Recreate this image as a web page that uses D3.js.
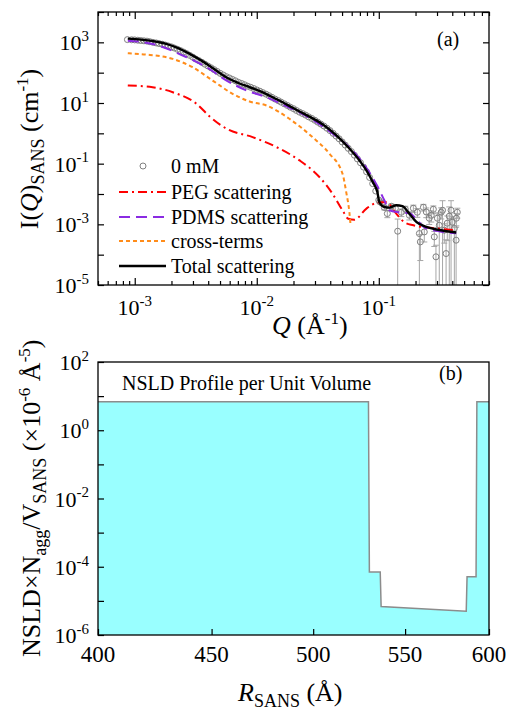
<!DOCTYPE html>
<html>
<head>
<meta charset="utf-8">
<script src="https://cdn.jsdelivr.net/npm/d3@7"></script>
<style>
  body { margin: 0; background: #fff; }
  svg { font-family: "Liberation Serif", "Times New Roman", serif; }
</style>
</head>
<body>
<svg id="chart" width="511" height="711"></svg>
<script>
// ---- panel (a): measured 0 mM data (low-q, dense part) ----
var qData = [0.000871, 0.000944, 0.001, 0.00106, 0.00112, 0.00119, 0.00126, 0.00133, 0.00141, 0.0015,
  0.00158, 0.00168, 0.00178, 0.00188, 0.002, 0.00211, 0.00224, 0.00237, 0.00251, 0.00266,
  0.00282, 0.00299, 0.00316, 0.00335, 0.00355, 0.00376, 0.00398, 0.00422, 0.00447, 0.00473,
  0.00501, 0.00531, 0.00562, 0.00596, 0.00631, 0.00668, 0.00708, 0.0075, 0.00794, 0.0084,
  0.00891, 0.00944, 0.01, 0.0106, 0.0112, 0.0119, 0.0126, 0.0133, 0.0141, 0.015,
  0.0158, 0.0168, 0.0178, 0.0188, 0.02, 0.0211, 0.0224, 0.0237, 0.0251, 0.0266,
  0.0282, 0.0299, 0.0316, 0.0335, 0.0355, 0.0376, 0.0398, 0.0422, 0.0447, 0.0473,
  0.0501, 0.0531, 0.0562, 0.0596, 0.0631, 0.0668, 0.0708, 0.075, 0.0794, 0.0841,
  0.0891, 0.0944, 0.1];
var iData = [1230, 1215, 1202, 1175, 1148, 1122, 1096, 1050, 1000, 955,
  912, 865, 813, 760, 708, 650, 589, 535, 479, 425,
  372, 325, 282, 250, 219, 190, 166, 145, 126, 110,
  95, 84, 74, 67, 60, 54, 48, 44, 40, 36,
  33, 30, 27, 24.5, 22, 19.6, 17.4, 15.4, 13.5, 12.0,
  10.7, 9.4, 8.3, 7.3, 6.5, 5.7, 5.0, 4.5, 4.0, 3.5,
  3.1, 2.7, 2.34, 2.02, 1.74, 1.47, 1.23, 1.0, 0.81, 0.66,
  0.52, 0.41, 0.32, 0.25, 0.19, 0.143, 0.107, 0.077, 0.054, 0.035,
  0.022, 0.0125, 0.0063];

// high-q scattered points with error bars
var qHigh = [0.102, 0.107, 0.111, 0.1175, 0.1267, 0.1367, 0.1428, 0.1531, 0.165, 0.178,
  0.192, 0.207, 0.215, 0.219, 0.232, 0.236, 0.245, 0.259, 0.269, 0.28,
  0.285, 0.294, 0.302, 0.313, 0.325, 0.333, 0.344, 0.356, 0.364, 0.378,
  0.391, 0.4, 0.416, 0.43, 0.432, 0.44];
var iHigh = [0.0055, 0.00494, 0.0036, 0.00226, 0.00394, 0.00339, 0.000593, 0.0025, 0.00314, 0.00199,
  0.00339, 0.0025, 0.000498, 0.000264, 0.00365, 0.000562, 0.00256, 0.00159, 0.00199, 0.00314,
  0.000386, 0.000085, 0.00159, 0.00093, 0.0025, 0.00291, 0.00064, 0.000109, 0.00109, 0.00185,
  0.00291, 0.00117, 0.00073, 0.0003, 0.00159, 0.0025];
var errHigh = [0.0006, 0.0008, 0.0006, 0.0006, 0.0007, 0.0008, 0.0009, 0.0007, 0.0008, 0.0006,
  0.0009, 0.0008, 0.0006, 0.0002, 0.0009, 0.0003, 0.0009, 0.0006, 0.0008, 0.0009,
  0.0002, 0.00012, 0.0008, 0.0012, 0.001, 0.0031, 0.0004, 0.0002, 0.0008, 0.0019,
  0.0031, 0.0006, 0.0008, 0.0005, 0.0007, 0.0009];

// model curves
var qTotal = [0.000877, 0.00112, 0.00141, 0.00178, 0.00224, 0.00282, 0.00355, 0.00447, 0.00562, 0.00708,
  0.00891, 0.0112, 0.0141, 0.0178, 0.0224, 0.0282, 0.0355, 0.0447, 0.0562, 0.0708,
  0.0794, 0.0891, 0.0973, 0.101, 0.111, 0.122, 0.139, 0.156, 0.178, 0.203,
  0.245, 0.313, 0.431];
var iTotal = [1324, 1230, 1096, 912, 661, 417, 245, 132, 70.8, 45.7,
  32.4, 22.4, 14.1, 8.71, 5.25, 3.24, 1.86, 0.871, 0.347, 0.115,
  0.0589, 0.0251, 0.0116, 0.00546, 0.00372, 0.00355, 0.00427, 0.00398, 0.00226, 0.0012,
  0.00082, 0.00065, 0.00054];

var qPDMS = [0.000877, 0.0014, 0.00267, 0.00388, 0.00566, 0.00826, 0.012, 0.0163, 0.0224, 0.0308,
  0.0417, 0.0574, 0.0693, 0.0837, 0.0975, 0.111, 0.122, 0.147, 0.178, 0.207,
  0.236, 0.313, 0.431];
var iPDMS = [1138, 885, 321, 151, 55, 25.8, 15.5, 8.93, 4.87, 2.34,
  0.99, 0.344, 0.149, 0.0517, 0.0179, 0.0062, 0.00291, 0.0025, 0.00232, 0.00136,
  0.0008, 0.00059, 0.00051];

var qCross = [0.000877, 0.00125, 0.00205, 0.00298, 0.00435, 0.00634, 0.00873, 0.012, 0.0185, 0.0286,
  0.0394, 0.0504, 0.0543, 0.0574, 0.0586];
var iCross = [435, 394, 284, 151, 55, 20.1, 11.2, 8.27, 3.02, 0.75,
  0.213, 0.0469, 0.0105, 0.0025, 0.00101];

var qPEG = [0.000877, 0.0014, 0.00205, 0.00321, 0.00411, 0.00566, 0.00924, 0.0145, 0.0224, 0.0326,
  0.0417, 0.0504, 0.0563, 0.0631, 0.0792, 0.101, 0.115, 0.139, 0.162, 0.192,
  0.275, 0.431];
var iPEG = [37.7, 33.1, 22.6, 9.41, 3.6, 1.42, 0.75, 0.352, 0.128, 0.0363,
  0.0103, 0.00291, 0.00153, 0.00142, 0.00331, 0.00533, 0.00533, 0.00226, 0.00117, 0.00093,
  0.00076, 0.00064];

var legendNames = ["0 mM", "PEG scattering", "PDMS scattering", "cross-terms", "Total scattering"];

// ---- panel (b): NSLD profile ----
var rProfile = [400, 529.5, 530, 536, 536.5, 586, 586.5, 592, 592.5, 600];
var nsldProfile = [6.8, 6.8, 7.0e-5, 7.0e-5, 6.8e-6, 5.0e-6, 5.1e-5, 5.1e-5, 6.8, 6.8];
var rTicks = [400, 450, 500, 550, 600];

var svg = d3.select("#chart");

function pow10(sel, v, size) {
  var e = Math.round(Math.log10(v));
  sel.append("tspan").text("10");
  sel.append("tspan").attr("font-size", size * 0.68).attr("dy", -size * 0.42).text(e);
}
function isDecade(v) {
  var l = Math.log10(v);
  return Math.abs(l - Math.round(l)) < 1e-6;
}
function ticks(gen, scale, vals, size, tx, ty) {
  svg.append("g").attr("transform", "translate(" + tx + "," + ty + ")")
    .call(gen(scale).tickValues(vals).tickSize(-size).tickFormat(""))
    .call(function(g) { g.select(".domain").remove(); })
    .call(function(g) { g.selectAll("line").attr("stroke", "#000").attr("stroke-width", 1.2); });
}

// ===== panel (a) =====
var A = { l: 98, r: 489, t: 12, b: 285 };
var x = d3.scaleLog().domain([5e-4, 0.8]).range([A.l, A.r]);
var y = d3.scaleLog().domain([1e-5, 1e4]).range([A.b, A.t]);

svg.append("clipPath").attr("id", "clipA").append("rect")
  .attr("x", A.l).attr("y", A.t).attr("width", A.r - A.l).attr("height", A.b - A.t);
var plotA = svg.append("g").attr("clip-path", "url(#clipA)");

// error bars
var errRows = d3.zip(qHigh, iHigh, errHigh);
plotA.selectAll(".eb").data(errRows).join("line")
  .attr("x1", function(d) { return x(d[0]); }).attr("x2", function(d) { return x(d[0]); })
  .attr("y1", function(d) { return y(d[1] + d[2]); })
  .attr("y2", function(d) { return d[1] - d[2] > 1e-5 ? y(d[1] - d[2]) : A.b; })
  .attr("stroke", "#a6a6a6").attr("stroke-width", 1);
plotA.selectAll(".capT").data(errRows).join("line")
  .attr("x1", function(d) { return x(d[0]) - 3; }).attr("x2", function(d) { return x(d[0]) + 3; })
  .attr("y1", function(d) { return y(d[1] + d[2]); }).attr("y2", function(d) { return y(d[1] + d[2]); })
  .attr("stroke", "#a6a6a6").attr("stroke-width", 1);
plotA.selectAll(".capB").data(errRows.filter(function(d) { return d[1] - d[2] > 1e-5; })).join("line")
  .attr("x1", function(d) { return x(d[0]) - 3; }).attr("x2", function(d) { return x(d[0]) + 3; })
  .attr("y1", function(d) { return y(d[1] - d[2]); }).attr("y2", function(d) { return y(d[1] - d[2]); })
  .attr("stroke", "#a6a6a6").attr("stroke-width", 1);

// data circles
var pts = d3.zip(qData, iData).concat(d3.zip(qHigh, iHigh));
plotA.selectAll(".pt").data(pts).join("circle")
  .attr("cx", function(d) { return x(d[0]); }).attr("cy", function(d) { return y(d[1]); })
  .attr("r", 3).attr("fill", "none").attr("stroke", "#808080").attr("stroke-width", 1);

var line = d3.line().x(function(d) { return x(d[0]); }).y(function(d) { return y(d[1]); })
  .curve(d3.curveMonotoneX);

var curves = [
  { q: qPEG, i: iPEG, color: "#ff0000", dash: "9,4,2,4", w: 2 },
  { q: qPDMS, i: iPDMS, color: "#8a2be2", dash: "11,6", w: 2 },
  { q: qCross, i: iCross, color: "#ff8c1a", dash: "4,3", w: 2 },
  { q: qTotal, i: iTotal, color: "#000", dash: null, w: 2.4 }
];
curves.forEach(function(c) {
  plotA.append("path").datum(d3.zip(c.q, c.i)).attr("d", line)
    .attr("fill", "none").attr("stroke", c.color).attr("stroke-width", c.w)
    .attr("stroke-dasharray", c.dash);
});

// frame + ticks
svg.append("rect").attr("x", A.l).attr("y", A.t).attr("width", A.r - A.l).attr("height", A.b - A.t)
  .attr("fill", "none").attr("stroke", "#000").attr("stroke-width", 1.3);
var xAll = x.ticks();
var xMaj = xAll.filter(isDecade), xMin = xAll.filter(function(v) { return !isDecade(v); });
ticks(d3.axisBottom, x, xMaj, 7, 0, A.b);
ticks(d3.axisBottom, x, xMin, 4, 0, A.b);
ticks(d3.axisTop, x, xMaj, 7, 0, A.t);
ticks(d3.axisTop, x, xMin, 4, 0, A.t);
var yDec = d3.range(-5, 5).map(function(e) { return Math.pow(10, e); });
var yLab = yDec.filter(function(v) { return Math.round(Math.log10(v)) % 2 !== 0; });
ticks(d3.axisLeft, y, yDec, 6, A.l, 0);
ticks(d3.axisRight, y, yDec, 6, A.r, 0);

svg.selectAll(".xla").data(xMaj).join("text")
  .attr("x", function(d) { return x(d); }).attr("y", 315)
  .attr("text-anchor", "middle").attr("font-size", 22)
  .each(function(d) { pow10(d3.select(this), d, 22); });
svg.selectAll(".yla").data(yLab).join("text")
  .attr("x", 89).attr("y", function(d) { return y(d) + 8; })
  .attr("text-anchor", "end").attr("font-size", 22)
  .each(function(d) { pow10(d3.select(this), d, 22); });

svg.append("text").attr("x", 437).attr("y", 46).attr("font-size", 20).text("(a)");

// axis titles (a)
var xt = svg.append("text").attr("x", 272).attr("y", 334).attr("font-size", 26);
xt.append("tspan").attr("font-style", "italic").text("Q");
xt.append("tspan").text(" (Å");
xt.append("tspan").attr("font-size", 17).attr("dy", -10).text("-1");
xt.append("tspan").attr("dy", 10).text(")");

var yt = svg.append("text").attr("transform", "translate(38,149) rotate(-90)")
  .attr("text-anchor", "middle").attr("font-size", 26);
yt.append("tspan").text("I(");
yt.append("tspan").attr("font-style", "italic").text("Q");
yt.append("tspan").text(")");
yt.append("tspan").attr("font-size", 18).attr("dy", 6).text("SANS");
yt.append("tspan").attr("dy", -6).text(" (cm");
yt.append("tspan").attr("font-size", 17).attr("dy", -10).text("-1");
yt.append("tspan").attr("dy", 10).text(")");

// legend
var lg = svg.append("g");
var lgY = [166, 192, 217, 241, 266];
lg.append("circle").attr("cx", 143).attr("cy", lgY[0]).attr("r", 3)
  .attr("fill", "none").attr("stroke", "#808080").attr("stroke-width", 1);
curves.forEach(function(c, k) {
  lg.append("line").attr("x1", 119).attr("x2", 166).attr("y1", lgY[k + 1]).attr("y2", lgY[k + 1])
    .attr("stroke", c.color).attr("stroke-width", c.w).attr("stroke-dasharray", c.dash);
});
legendNames.forEach(function(n, k) {
  lg.append("text").attr("x", 171).attr("y", lgY[k] + 7).attr("font-size", 20).text(n);
});

// ===== panel (b) =====
var B = { l: 98, r: 489, t: 362, b: 635 };
var xb = d3.scaleLog().domain([400, 600]).range([B.l, B.r]);
var yb = d3.scaleLog().domain([1e-6, 1e2]).range([B.b, B.t]);
var prof = d3.zip(rProfile, nsldProfile);

svg.append("path").datum(prof)
  .attr("d", d3.area().x(function(d) { return xb(d[0]); }).y0(yb(1e-6)).y1(function(d) { return yb(d[1]); }))
  .attr("fill", "#99ffff");
svg.append("path").datum(prof)
  .attr("d", d3.line().x(function(d) { return xb(d[0]); }).y(function(d) { return yb(d[1]); }))
  .attr("fill", "none").attr("stroke", "#8c8c8c").attr("stroke-width", 1.5);

svg.append("rect").attr("x", B.l).attr("y", B.t).attr("width", B.r - B.l).attr("height", B.b - B.t)
  .attr("fill", "none").attr("stroke", "#000").attr("stroke-width", 1.3);
ticks(d3.axisBottom, xb, rTicks, 6, 0, B.b);
var ybDec = d3.range(-6, 3).map(function(e) { return Math.pow(10, e); });
var ybLab = ybDec.filter(function(v) { return Math.round(Math.log10(v)) % 2 === 0; });
ticks(d3.axisLeft, yb, ybDec, 6, B.l, 0);

svg.selectAll(".xlb").data(rTicks).join("text")
  .attr("x", function(d) { return xb(d); }).attr("y", 662)
  .attr("text-anchor", "middle").attr("font-size", 23).text(function(d) { return d; });
svg.selectAll(".ylb").data(ybLab).join("text")
  .attr("x", 89).attr("y", function(d) { return yb(d) + 8; })
  .attr("text-anchor", "end").attr("font-size", 22)
  .each(function(d) { pow10(d3.select(this), d, 22); });

svg.append("text").attr("x", 122).attr("y", 390).attr("font-size", 20).text("NSLD Profile per Unit Volume");
svg.append("text").attr("x", 439).attr("y", 380).attr("font-size", 20).text("(b)");

var xbt = svg.append("text").attr("x", 238).attr("y", 701).attr("font-size", 26);
xbt.append("tspan").attr("font-style", "italic").text("R");
xbt.append("tspan").attr("font-size", 18).attr("dy", 6).text("SANS");
xbt.append("tspan").attr("dy", -6).text(" (Å)");

var ybt = svg.append("text").attr("transform", "translate(40,657) rotate(-90)").attr("font-size", 26);
ybt.append("tspan").text("NSLD×N");
ybt.append("tspan").attr("font-size", 18).attr("dy", 6).text("agg");
ybt.append("tspan").attr("dy", -6).text("/V");
ybt.append("tspan").attr("font-size", 18).attr("dy", 6).text("SANS");
ybt.append("tspan").attr("dy", -6).text(" (×10");
ybt.append("tspan").attr("font-size", 17).attr("dy", -10).text("-6");
ybt.append("tspan").attr("dy", 10).text(" Å");
ybt.append("tspan").attr("font-size", 17).attr("dy", -10).text("-5");
ybt.append("tspan").attr("dy", 10).text(")");
</script>
</body>
</html>
